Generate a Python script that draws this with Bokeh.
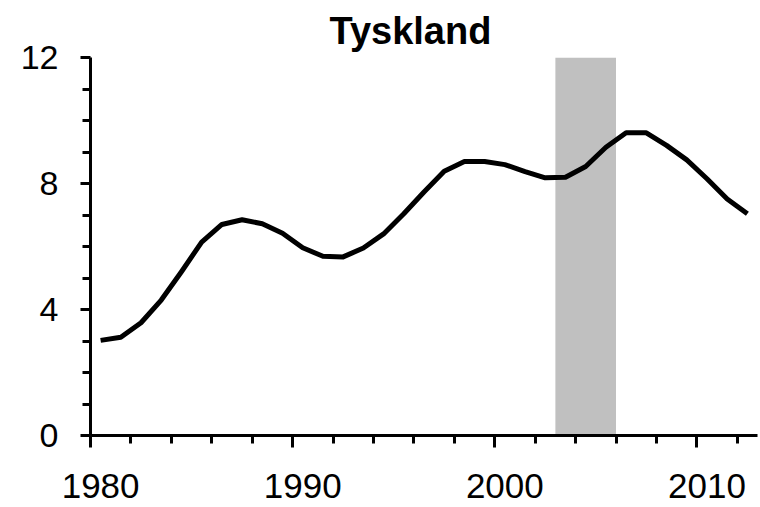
from bokeh.plotting import figure
from bokeh.models import Range1d, LinearAxis, FixedTicker, CustomJSTickFormatter
from bokeh.embed import file_html
from bokeh.resources import INLINE

# ---- data ----
title_text = "Tyskland"
years = list(range(1980, 2013))
values = [3.02, 3.12, 3.58, 4.30, 5.20, 6.14, 6.70, 6.85, 6.72, 6.42,
          5.96, 5.69, 5.67, 5.95, 6.40, 7.04, 7.73, 8.39, 8.70, 8.70,
          8.60, 8.38, 8.18, 8.20, 8.54, 9.15, 9.61, 9.61, 9.21, 8.75,
          8.15, 7.51, 7.04]
shade_first_year = 2003
shade_last_year = 2005
x_label_years = [1980, 1990, 2000, 2010]
y_major = [0, 4, 8, 12]
y_minor = [1, 2, 3, 5, 6, 7, 9, 10, 11]
y_min, y_max = 0, 12

FONT = "Liberation Sans"

# category boundaries (years are centred in their category slot)
x_lo = years[0] - 0.5
x_hi = years[-1] + 0.5
boundary_minor = [y - 0.5 for y in years[::2]]
boundary_major = [y - 0.5 for y in x_label_years]

p = figure(width=760, height=507, output_backend="svg", toolbar_location=None,
           x_range=Range1d(x_lo, x_hi), y_range=Range1d(y_min, y_max),
           min_border_left=90, min_border_right=3, min_border_top=57,
           min_border_bottom=72, title=title_text)

p.outline_line_color = None
p.xgrid.grid_line_color = None
p.ygrid.grid_line_color = None
p.background_fill_color = "white"
p.border_fill_color = "white"

# title
p.title.text_font = FONT
p.title.text_font_size = "38px"
p.title.text_font_style = "bold"
p.title.text_color = "black"
p.title.align = "left"
p.title.offset = 239
p.title.standoff = 11

# shaded period
p.quad(left=[shade_first_year - 0.5], right=[shade_last_year + 0.5],
       bottom=[y_min], top=[y_max], fill_color="#C0C0C0", line_color=None)

# series
p.line(years, values, line_color="black", line_width=5, line_join="round")

# y axis
ya = p.yaxis[0]
ya.ticker = FixedTicker(ticks=y_major, minor_ticks=y_minor)
ya.axis_line_width = 3
ya.axis_line_color = "black"
ya.major_tick_line_width = 3
ya.minor_tick_line_width = 3
ya.major_tick_out = 10
ya.major_tick_in = 0
ya.minor_tick_out = 8
ya.minor_tick_in = 0
ya.major_label_text_font = FONT
ya.major_label_text_font_size = "34px"
ya.major_label_text_color = "black"
ya.major_label_standoff = 22

# x axis: line and tick marks at category boundaries
xa = p.xaxis[0]
xa.ticker = FixedTicker(ticks=boundary_major, minor_ticks=boundary_minor)
xa.formatter = CustomJSTickFormatter(code="return ''")
xa.major_label_text_font_size = "0px"
xa.major_label_standoff = 0
xa.axis_line_width = 3
xa.axis_line_color = "black"
xa.major_tick_line_width = 3
xa.minor_tick_line_width = 3
xa.major_tick_out = 12
xa.major_tick_in = 0
xa.minor_tick_out = 8
xa.minor_tick_in = 0

# x axis labels centred on the years
xb = LinearAxis(ticker=FixedTicker(ticks=x_label_years, minor_ticks=[]))
xb.axis_line_color = None
xb.major_tick_line_color = None
xb.minor_tick_line_color = None
xb.major_label_text_font = FONT
xb.major_label_text_font_size = "35px"
xb.major_label_text_color = "black"
xb.major_label_standoff = 20
p.add_layout(xb, "below")

open("out.html", "w").write(file_html(p, INLINE))
